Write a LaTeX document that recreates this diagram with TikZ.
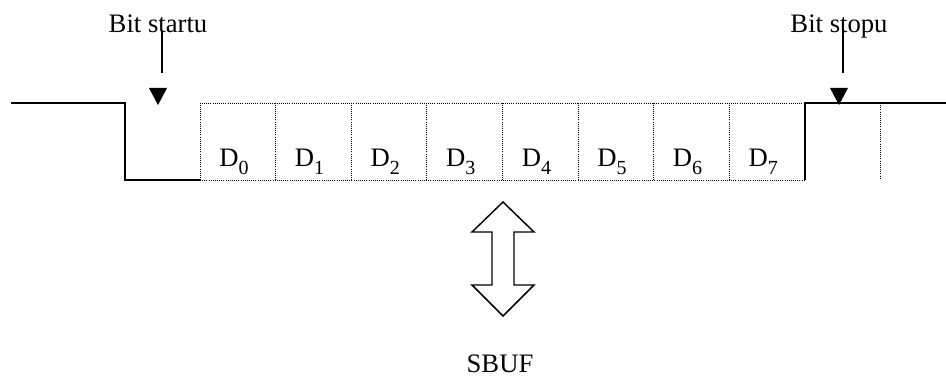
\documentclass[tikz,border=0pt]{standalone}
\usepackage{fontspec}
\setmainfont{Liberation Serif}
\usetikzlibrary{positioning,calc}

% data bit label with a lowered index
\newcommand{\databit}[1]{D\raisebox{-6pt}{\fontsize{15}{15}\selectfont #1}}

\begin{document}
\begin{tikzpicture}[
  x=0.75pt,y=-0.75pt,
  font=\fontsize{20}{23}\selectfont,
  signal/.style={draw,line width=1.5pt},
  cell/.style={draw,densely dotted,line width=0.6pt},
  marker/.style={draw,line width=1pt},
  outline/.style={draw,line width=1.1pt,line join=miter},
]
\useasboundingbox (0,0) rectangle (946,378);

%% frame: start bit, 8 data cells, stop bit
\coordinate (idle)   at (11,103);
\coordinate (fall)   at (125,103);
\coordinate (d0)     at (200,180);
\coordinate (d8)     at (805,180);
\coordinate (rise)   at (805,103);
\coordinate (idle2)  at (946,103);

\draw[signal] (idle) -- (fall) |- (d0);
\draw[signal] (d8) -- (rise) -- (idle2);

% data cells
\draw[cell] (d0) rectangle (rise);
\foreach \i in {1,...,7}
  \draw[cell] ($(d0)+(75.6*\i,0)$) -- ($(d0)+(75.6*\i,-77)$);
\foreach \i in {0,...,7}
  \node[anchor=base] (bit\i) at ($(d0)+(75.6*\i+34,-14)$) {\databit{\i}};

% second cell of stop bit
\draw[cell] (880,103) -- (880,178);

%% markers
\node[anchor=base] (startlbl) at (158,33) {Bit startu};
\coordinate (startend) at (162,73);
\draw[marker] (162,30) -- (startend);
\fill (149,88) -- (167,88) -- (158,105) -- cycle;

\node[anchor=base] (stoplbl) at (839,33) {Bit stopu};
\coordinate (stopend) at (843,73);
\draw[marker] (843,25) -- (stopend);
\fill (830,88) -- (848,88) -- (839,105) -- cycle;

%% transfer to/from SBUF
\coordinate (xfer) at (503,259);
\draw[outline] (xfer) ++(0,-57) -- ++(31,30) -- ++(-20,0) -- ++(0,53)
  -- ++(20,0) -- ++(-31,31) -- ++(-31,-31) -- ++(20,0) -- ++(0,-53)
  -- ++(-20,0) -- cycle;
\node[anchor=base,inner sep=0pt] (sbuf) at (500,372) {SBUF};

\end{tikzpicture}
\end{document}
